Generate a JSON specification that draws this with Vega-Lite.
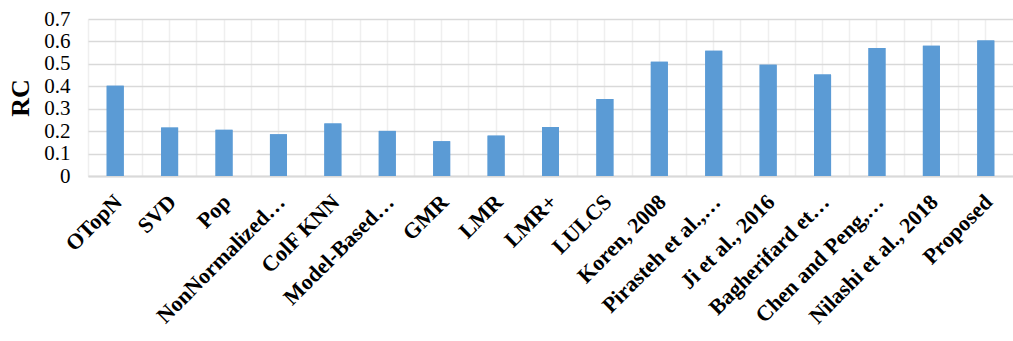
{
  "$schema": "https://vega.github.io/schema/vega-lite/v6.json",
  "autosize": "none",
  "width": 925,
  "height": 157,
  "padding": {"left": 88, "top": 19, "right": 0, "bottom": 165},
  "background": "white",
  "config": {
    "view": {"stroke": null},
    "font": "Liberation Serif"
  },
  "data": {
    "values": [
      {"method": "OTopN", "rc": 0.402},
      {"method": "SVD", "rc": 0.216},
      {"method": "Pop", "rc": 0.206},
      {"method": "NonNormalized…", "rc": 0.186},
      {"method": "ColF KNN", "rc": 0.234},
      {"method": "Model-Based…", "rc": 0.201},
      {"method": "GMR", "rc": 0.155},
      {"method": "LMR", "rc": 0.18},
      {"method": "LMR+", "rc": 0.218},
      {"method": "LULCS", "rc": 0.343},
      {"method": "Koren, 2008", "rc": 0.509},
      {"method": "Pirasteh et al.,…", "rc": 0.558},
      {"method": "Ji et al., 2016", "rc": 0.496},
      {"method": "Bagherifard et…", "rc": 0.453},
      {"method": "Chen and Peng,…", "rc": 0.571},
      {"method": "Nilashi et al., 2018", "rc": 0.581},
      {"method": "Proposed", "rc": 0.604}
    ]
  },
  "layer": [
    {
      "mark": {"type": "bar", "color": "#5B9BD5", "size": 17},
      "encoding": {
        "x": {
          "field": "method",
          "type": "nominal",
          "sort": null,
          "scale": {"paddingInner": 0, "paddingOuter": 0},
          "axis": {
            "orient": "bottom",
            "title": null,
            "labelAngle": -45,
            "labelAlign": "right",
            "labelBaseline": "middle",
            "labelFont": "Liberation Serif",
            "labelFontWeight": "bold",
            "labelFontSize": 22,
            "labelColor": "#000000",
            "labelPadding": 22,
            "labelOffset": 3,
            "labelLimit": 300,
            "labelOverlap": false,
            "ticks": false,
            "domain": true,
            "domainColor": "#d9d9d9",
            "domainWidth": 2,
            "grid": true,
            "bandPosition": 0,
            "gridColor": "#efefef",
            "gridWidth": 1.5
          }
        },
        "y": {
          "field": "rc",
          "type": "quantitative",
          "scale": {"domain": [0, 0.7], "nice": false},
          "axis": {
            "title": "RC",
            "titleFont": "Liberation Serif",
            "titleFontWeight": "bold",
            "titleFontSize": 26,
            "titleColor": "#000000",
            "titlePadding": 10,
            "values": [0, 0.1, 0.2, 0.3, 0.4, 0.5, 0.6, 0.7],
            "format": ".1~f",
            "labelFont": "Liberation Serif",
            "labelFontSize": 21,
            "labelColor": "#000000",
            "labelPadding": 18,
            "labelOverlap": false,
            "labelFlush": false,
            "ticks": false,
            "domain": false,
            "grid": true,
            "gridColor": "#d9d9d9",
            "gridWidth": 1.5
          }
        }
      }
    },
    {
      "mark": {"type": "bar", "color": "#5B9BD5", "size": 17},
      "encoding": {
        "x": {
          "field": "method",
          "type": "nominal",
          "sort": null,
          "axis": {
            "orient": "top",
            "title": null,
            "labels": false,
            "ticks": false,
            "domain": false,
            "grid": true,
            "bandPosition": 0.5,
            "gridColor": "#efefef",
            "gridWidth": 1.5
          }
        },
        "y": {
          "field": "rc",
          "type": "quantitative",
          "scale": {"domain": [0, 0.7], "nice": false},
          "axis": {
            "title": "RC",
            "titleFont": "Liberation Serif",
            "titleFontWeight": "bold",
            "titleFontSize": 26,
            "titleColor": "#000000",
            "titlePadding": 10,
            "values": [0, 0.1, 0.2, 0.3, 0.4, 0.5, 0.6, 0.7],
            "format": ".1~f",
            "labelFont": "Liberation Serif",
            "labelFontSize": 21,
            "labelColor": "#000000",
            "labelPadding": 18,
            "labelOverlap": false,
            "labelFlush": false,
            "ticks": false,
            "domain": false,
            "grid": true,
            "gridColor": "#d9d9d9",
            "gridWidth": 1.5
          }
        }
      }
    }
  ],
  "resolve": {"axis": {"x": "independent"}}
}
